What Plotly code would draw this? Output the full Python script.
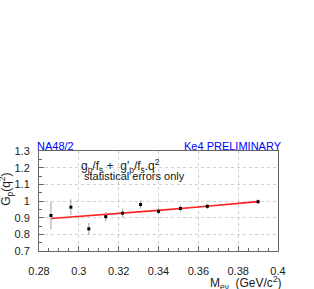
import plotly.graph_objects as go

# data
mass = [0.286, 0.296, 0.305, 0.3135, 0.322, 0.331, 0.340, 0.351, 0.3645, 0.390]
gp = [0.913, 0.963, 0.833, 0.906, 0.927, 0.979, 0.938, 0.955, 0.968, 0.996]
gp_err = [0.082, 0.047, 0.035, 0.028, 0.027, 0.025, 0.019, 0.018, 0.016, 0.014]

fit_x = [0.286, 0.30, 0.32, 0.34, 0.36, 0.38, 0.39]
fit_y = [0.895, 0.907, 0.925, 0.944, 0.964, 0.985, 0.996]

x_ticks = [0.28, 0.30, 0.32, 0.34, 0.36, 0.38, 0.40]
x_tick_labels = ["0.28", "0.3", "0.32", "0.34", "0.36", "0.38", "0.4"]
y_ticks = [0.7, 0.8, 0.9, 1.0, 1.1, 1.2, 1.3]
y_tick_labels = ["0.7", "0.8", "0.9", "1", "1.1", "1.2", "1.3"]

W, H = 314, 289
L, R, T, B = 39, 36, 151, 25
pw, ph = W - L - R, H - T - B


def px(x):
    return (x - L) / pw


def py(y):
    return (H - B - y) / ph


FONT = "Liberation Sans, Arial, sans-serif"

fig = go.Figure()
fig.add_trace(go.Scatter(
    x=fit_x, y=fit_y, mode="lines",
    line=dict(color="#ff2020", width=1.6),
    showlegend=False, hoverinfo="skip"))
fig.add_trace(go.Scatter(
    x=mass, y=gp, mode="markers",
    marker=dict(symbol="square", size=3, color="black"),
    error_y=dict(type="data", array=gp_err, color="#a0a0a0", thickness=1, width=0),
    showlegend=False))

axis_common = dict(
    showline=True, linecolor="#666", linewidth=1, mirror=True,
    ticks="inside", tickcolor="#666", ticklen=5, tickwidth=1,
    showgrid=True, gridcolor="#cfcfcf", griddash="dot", gridwidth=1,
    zeroline=False,
    tickfont=dict(family=FONT, size=11, color="#222"),
)

fig.update_layout(
    width=W, height=H,
    margin=dict(l=L, r=R, t=T, b=B, pad=0),
    paper_bgcolor="white", plot_bgcolor="white",
    xaxis=dict(range=[0.28, 0.40], tickvals=x_ticks, ticktext=x_tick_labels,
               minor=dict(dtick=0.005, ticklen=3, tickcolor="#666", ticks="inside", showgrid=False),
               ticklabelstandoff=10, **axis_common),
    yaxis=dict(range=[0.7, 1.3], tickvals=y_ticks, ticktext=y_tick_labels,
               minor=dict(dtick=0.05, ticklen=3, tickcolor="#666", ticks="inside", showgrid=False),
               ticklabelstandoff=6, **axis_common),
    font=dict(family=FONT, size=11, color="black"),
)

ann = [
    dict(text="NA48/2", x=px(35), y=py(145), xanchor="left", yanchor="middle",
         font=dict(size=11, color="#0000ff")),
    dict(text="Ke4 PRELIMINARY", x=px(284), y=py(145), xanchor="right", yanchor="middle",
         font=dict(size=11, color="#0000ff")),
    dict(text="g<sub>p</sub>/f<sub>s</sub> +  g'<sub>p</sub>/f<sub>s</sub>.q<sup>2</sup>",
         x=px(79), y=py(167.5), xanchor="left", yanchor="middle",
         font=dict(size=12, color="#222")),
    dict(text="statistical errors only", x=px(82), y=py(179), xanchor="left", yanchor="middle",
         font=dict(size=11, color="#111")),
    dict(text="G<sub>p</sub>(q<sup>2</sup>)", x=px(6), y=py(174), xanchor="center", yanchor="top",
         textangle=-90, font=dict(size=12, color="#222")),
    dict(text="M<sub>eν</sub>  (GeV/c<sup>2</sup>)", x=px(284), y=py(288), xanchor="right", yanchor="top",
         font=dict(size=12, color="#222")),
]
for a in ann:
    a.update(xref="paper", yref="paper", showarrow=False)
fig.update_layout(annotations=ann)

fig.write_html("out.html", config={"displayModeBar": False},
               post_script="document.body.style.margin='0';document.body.style.overflow='hidden';")
